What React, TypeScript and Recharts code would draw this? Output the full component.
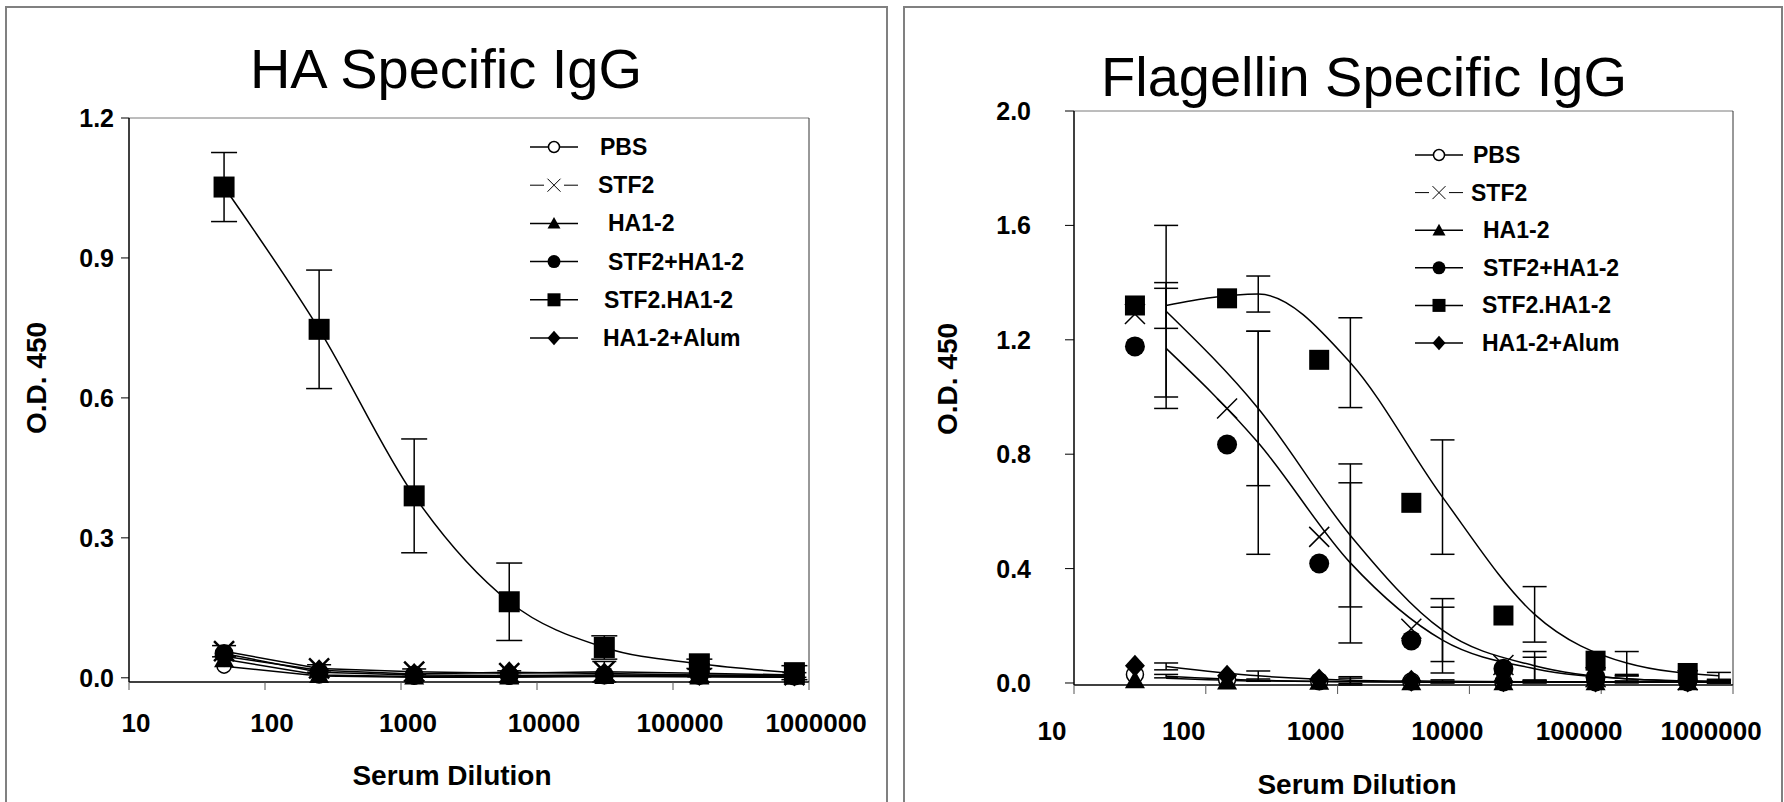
import React from "react";
import { ComposedChart, Line, Scatter, XAxis, YAxis, ErrorBar } from "recharts";

// 5-fold serial serum dilutions
const dilutions = [50, 250, 1250, 6250, 31250, 156250, 781250];
// in the flagellin panel the symbols sit left of their curves / error bars
const flaSymbolDilutions = [29, 145, 725, 3625, 18125, 90625, 453125];

const xTicks = [10, 100, 1000, 10000, 100000, 1000000];
const haYTicks = [0, 0.3, 0.6, 0.9, 1.2];
const flaYTicks = [0, 0.4, 0.8, 1.2, 1.6, 2.0];

const groups = ["PBS", "STF2", "HA1-2", "STF2+HA1-2", "STF2.HA1-2", "HA1-2+Alum"];

// HA specific IgG (O.D. 450)
const haPbs = [0.025, 0.004, 0.001, 0.001, 0.003, 0.002, 0.001];
const haStf2 = [0.057, 0.02, 0.013, 0.01, 0.013, 0.01, 0.006];
const haHa12 = [0.04, 0.006, 0.003, 0.003, 0.004, 0.003, 0.002];
const haStf2Ha12 = [0.052, 0.012, 0.006, 0.005, 0.006, 0.005, 0.004];
const haFusion = [1.052, 0.747, 0.39, 0.163, 0.065, 0.03, 0.011];
const haAlum = [0.046, 0.016, 0.008, 0.012, 0.009, 0.006, 0.005];
const haFusionErr = [0.074, 0.127, 0.122, 0.083, 0.025, 0.01, 0.015];
const haStf2Err = [0.012, 0.008, 0.006, 0.005, 0.022, 0.008, 0.005];

// Flagellin specific IgG - symbols
const flaSymPbs = [0.03, 0.012, 0.006, 0.005, 0.003, 0.003, 0.003];
const flaSymStf2 = [1.29, 0.96, 0.511, 0.19, 0.063, 0.02, 0.01];
const flaSymHa12 = [0.01, 0.005, 0.004, 0.003, 0.003, 0.003, 0.003];
const flaSymStf2Ha12 = [1.177, 0.834, 0.418, 0.149, 0.05, 0.02, 0.01];
const flaSymFusion = [1.32, 1.345, 1.13, 0.63, 0.236, 0.078, 0.035];
const flaSymAlum = [0.06, 0.025, 0.012, 0.008, 0.006, 0.005, 0.005];

// Flagellin specific IgG - fitted curves and SD
const flaPbs = [0.024, 0.01, 0.005, 0.003, 0.003, 0.003, 0.003];
const flaStf2 = [1.3, 0.96, 0.516, 0.185, 0.06, 0.015, 0.005];
const flaHa12 = [0.017, 0.007, 0.004, 0.003, 0.003, 0.003, 0.003];
const flaStf2Ha12 = [1.17, 0.84, 0.42, 0.15, 0.05, 0.015, 0.005];
const flaFusion = [1.32, 1.36, 1.12, 0.65, 0.24, 0.07, 0.025];
const flaAlum = [0.058, 0.025, 0.01, 0.006, 0.004, 0.004, 0.004];
const flaPbsErr = [0.006, 0.004, 0.012, 0.003, 0.002, 0.002, 0.002];
const flaStf2Err = [0.3, 0.27, 0.25, 0.11, 0.05, 0.01, 0.005];
const flaStf2Ha12Err = [0.21, 0.39, 0.28, 0.115, 0.04, 0.01, 0.005];
const flaFusionErr = [0.08, 0.063, 0.157, 0.2, 0.097, 0.04, 0.012];
const flaAlumErr = [0.012, 0.017, 0.012, 0.005, 0.004, 0.003, 0.003];

const kinds = ["open", "x", "triangle", "circle", "square", "diamond"];

const FONT = "'Liberation Sans', Arial, sans-serif";

type Pt = { x: number; y: number; e: number };
const pts = (xs: number[], ys: number[], es?: number[]): Pt[] =>
  xs.map((x, i) => ({ x, y: ys[i], e: es ? es[i] : 0 }));

function Marker({ cx, cy, kind, size, xStroke = 1.5 }: any) {
  if (cx == null || cy == null) return null;
  const r = size / 2;
  switch (kind) {
    case "open":
      return <circle cx={cx} cy={cy} r={r - 1} fill="#fff" stroke="#000" strokeWidth={1.5} />;
    case "circle":
      return <circle cx={cx} cy={cy} r={r} fill="#000" />;
    case "square":
      return <rect x={cx - r} y={cy - r} width={size} height={size} fill="#000" />;
    case "triangle":
      return (
        <polygon
          points={`${cx},${cy - r} ${cx + r},${cy + r * 0.8} ${cx - r},${cy + r * 0.8}`}
          fill="#000"
        />
      );
    case "diamond":
      return (
        <polygon
          points={`${cx},${cy - r * 1.1} ${cx + r},${cy} ${cx},${cy + r * 1.1} ${cx - r},${cy}`}
          fill="#000"
        />
      );
    case "x":
      return (
        <path
          d={`M${cx - r},${cy - r}L${cx + r},${cy + r}M${cx - r},${cy + r}L${cx + r},${cy - r}`}
          stroke="#000"
          strokeWidth={xStroke}
          fill="none"
        />
      );
    default:
      return null;
  }
}

function XTick({ x, y, payload, dx, dy }: any) {
  return (
    <text x={x + dx} y={y + dy} textAnchor="middle" fontFamily={FONT} fontWeight="bold" fontSize={26} fill="#000">
      {payload.value}
    </text>
  );
}

function YTick({ x, y, payload }: any) {
  return (
    <text x={x} y={y + 9} textAnchor="end" fontFamily={FONT} fontWeight="bold" fontSize={25} fill="#000">
      {Number(payload.value).toFixed(1)}
    </text>
  );
}

function LegendRows({ x0, y0, step, textOffsets }: any) {
  return (
    <g>
      {groups.map((g, i) => {
        const cy = y0 + i * step;
        return (
          <g key={g}>
            <line x1={x0} x2={x0 + 48} y1={cy} y2={cy} stroke="#000" strokeWidth={kinds[i] === "x" ? 1 : 1.5} />
            {kinds[i] === "x" && <rect x={x0 + 14} y={cy - 3} width={20} height={6} fill="#fff" />}
            <Marker cx={x0 + 24} cy={cy} kind={kinds[i]} size={13} xStroke={1} />
            <text
              x={x0 + textOffsets[i]}
              y={cy + 8}
              fontFamily={FONT}
              fontWeight="bold"
              fontSize={23}
              fill="#000"
            >
              {g}
            </text>
          </g>
        );
      })}
    </g>
  );
}

const dotOf = (kind: string, size: number, xStroke = 2.5) => (p: any) =>
  <Marker key={`m${p.index}`} cx={p.cx} cy={p.cy} kind={kind} size={size} xStroke={xStroke} />;

function HaChart() {
  const low = [
    { name: groups[0], data: pts(dilutions, haPbs), kind: "open", size: 16 },
    { name: groups[1], data: pts(dilutions, haStf2, haStf2Err), kind: "x", size: 20 },
    { name: groups[2], data: pts(dilutions, haHa12), kind: "triangle", size: 20 },
    { name: groups[3], data: pts(dilutions, haStf2Ha12), kind: "circle", size: 19 },
    { name: groups[5], data: pts(dilutions, haAlum), kind: "diamond", size: 20 },
  ];
  return (
    <ComposedChart width={892} height={802} margin={{ top: 117, right: 82, bottom: 119, left: 128 }}>
      <XAxis xAxisId="frame" orientation="top" type="number" domain={[0, 1]} tick={false} tickLine={false} axisLine={{ stroke: "#7a7a7a" }} height={1} />
      <YAxis yAxisId="frame" orientation="right" type="number" domain={[0, 1]} tick={false} tickLine={false} axisLine={{ stroke: "#333" }} width={1} />
      <XAxis
        dataKey="x"
        type="number"
        scale="log"
        domain={[10, 1000000]}
        ticks={xTicks}
        allowDataOverflow
        height={1}
        tickSize={8}
        tickMargin={0}
        axisLine={{ stroke: "#000", strokeWidth: 1.5 }}
        tickLine={{ stroke: "#555" }}
        tick={(p: any) => <XTick {...p} dx={7} dy={42} />}
      />
      <YAxis
        dataKey="y"
        type="number"
        domain={[0, 1.2]}
        ticks={haYTicks}
        width={1}
        tickSize={8}
        tickMargin={7}
        axisLine={{ stroke: "#000", strokeWidth: 1.5 }}
        tickLine={{ stroke: "#000" }}
        tick={(p: any) => <YTick {...p} />}
      />
      {low.map((s) => (
        <Line
          key={s.name}
          data={s.data}
          dataKey="y"
          name={s.name}
          type="linear"
          stroke="#000"
          strokeWidth={1.5}
          dot={dotOf(s.kind, s.size)}
          activeDot={false}
          isAnimationActive={false}
        >
          <ErrorBar dataKey="e" width={12} stroke="#000" strokeWidth={1.5} direction="y" />
        </Line>
      ))}
      <Line
        data={pts(dilutions, haFusion, haFusionErr)}
        dataKey="y"
        name={groups[4]}
        type="monotone"
        stroke="#000"
        strokeWidth={1.5}
        dot={dotOf("square", 21)}
        activeDot={false}
        isAnimationActive={false}
      >
        <ErrorBar dataKey="e" width={13} stroke="#000" strokeWidth={1.5} direction="y" />
      </Line>
    </ComposedChart>
  );
}

function FlaChart() {
  const curves = [
    { name: groups[0], data: pts(dilutions, flaPbs, flaPbsErr) },
    { name: groups[2], data: pts(dilutions, flaHa12) },
    { name: groups[5], data: pts(dilutions, flaAlum, flaAlumErr) },
    { name: groups[1], data: pts(dilutions, flaStf2, flaStf2Err) },
    { name: groups[3], data: pts(dilutions, flaStf2Ha12, flaStf2Ha12Err) },
    { name: groups[4], data: pts(dilutions, flaFusion, flaFusionErr) },
  ];
  const symbols = [
    { name: groups[0], data: pts(flaSymbolDilutions, flaSymPbs), kind: "open", size: 19 },
    { name: groups[2], data: pts(flaSymbolDilutions, flaSymHa12), kind: "triangle", size: 20 },
    { name: groups[5], data: pts(flaSymbolDilutions, flaSymAlum), kind: "diamond", size: 20 },
    { name: groups[3], data: pts(flaSymbolDilutions, flaSymStf2Ha12), kind: "circle", size: 20 },
    { name: groups[1], data: pts(flaSymbolDilutions, flaSymStf2), kind: "x", size: 20 },
    { name: groups[4], data: pts(flaSymbolDilutions, flaSymFusion), kind: "square", size: 20 },
  ];
  return (
    <ComposedChart width={892} height={802} margin={{ top: 110, right: 50, bottom: 116, left: 181 }}>
      <XAxis xAxisId="frame" orientation="top" type="number" domain={[0, 1]} tick={false} tickLine={false} axisLine={{ stroke: "#7a7a7a" }} height={1} />
      <YAxis yAxisId="frame" orientation="right" type="number" domain={[0, 1]} tick={false} tickLine={false} axisLine={{ stroke: "#333" }} width={1} />
      <XAxis
        dataKey="x"
        type="number"
        scale="log"
        domain={[10, 1000000]}
        ticks={xTicks}
        allowDataOverflow
        height={1}
        tickSize={9}
        tickMargin={0}
        axisLine={{ stroke: "#000", strokeWidth: 1.5 }}
        tickLine={{ stroke: "#555" }}
        tick={(p: any) => <XTick {...p} dx={-22} dy={46} />}
      />
      <YAxis
        dataKey="y"
        type="number"
        domain={[0, 2]}
        ticks={flaYTicks}
        width={1}
        tickSize={9}
        tickMargin={34}
        axisLine={{ stroke: "#000", strokeWidth: 1.5 }}
        tickLine={{ stroke: "#000" }}
        tick={(p: any) => <YTick {...p} />}
      />
      {curves.map((s) => (
        <Line
          key={`c-${s.name}`}
          data={s.data}
          dataKey="y"
          name={s.name}
          type="monotone"
          stroke="#000"
          strokeWidth={1.5}
          dot={false}
          activeDot={false}
          isAnimationActive={false}
        >
          <ErrorBar dataKey="e" width={12} stroke="#000" strokeWidth={1.5} direction="y" />
        </Line>
      ))}
      {symbols.map((s) => (
        <Scatter
          key={`s-${s.name}`}
          data={s.data}
          dataKey="y"
          name={s.name}
          isAnimationActive={false}
          shape={(p: any) => <Marker cx={p.cx} cy={p.cy} kind={s.kind} size={s.size} xStroke={1.5} />}
        />
      ))}
    </ComposedChart>
  );
}

export default function App() {
  const textStyle = { fontFamily: FONT, fill: "#000" };
  return (
    <div style={{ position: "absolute", left: 0, top: 0, width: 1784, height: 802, overflow: "hidden", background: "#fff" }}>
      <div style={{ position: "absolute", left: 5, top: 6, width: 879, height: 900, border: "2px solid #808080" }} />
      <div style={{ position: "absolute", left: 903, top: 6, width: 876, height: 900, border: "2px solid #808080" }} />
      <div style={{ position: "absolute", left: 0, top: 0 }}>
        <HaChart />
      </div>
      <div style={{ position: "absolute", left: 892, top: 0 }}>
        <FlaChart />
      </div>
      <svg width={1784} height={802} style={{ position: "absolute", left: 0, top: 0, pointerEvents: "none" }}>
        <text x={446} y={88} textAnchor="middle" fontSize={56} {...textStyle}>HA Specific IgG</text>
        <text x={1364} y={96} textAnchor="middle" fontSize={56} {...textStyle}>Flagellin Specific IgG</text>
        <text x={452} y={785} textAnchor="middle" fontSize={28} fontWeight="bold" {...textStyle}>Serum Dilution</text>
        <text x={1357} y={794} textAnchor="middle" fontSize={28} fontWeight="bold" {...textStyle}>Serum Dilution</text>
        <text x={36} y={378} dy={10} textAnchor="middle" fontSize={28} fontWeight="bold" transform="rotate(-90 36 378)" {...textStyle}>O.D. 450</text>
        <text x={947} y={379} dy={10} textAnchor="middle" fontSize={28} fontWeight="bold" transform="rotate(-90 947 379)" {...textStyle}>O.D. 450</text>
        <LegendRows x0={530} y0={147} step={38.2} textOffsets={[70, 68, 78, 78, 74, 73]} />
        <LegendRows x0={1415} y0={155} step={37.6} textOffsets={[58, 56, 68, 68, 67, 67]} />
      </svg>
    </div>
  );
}
